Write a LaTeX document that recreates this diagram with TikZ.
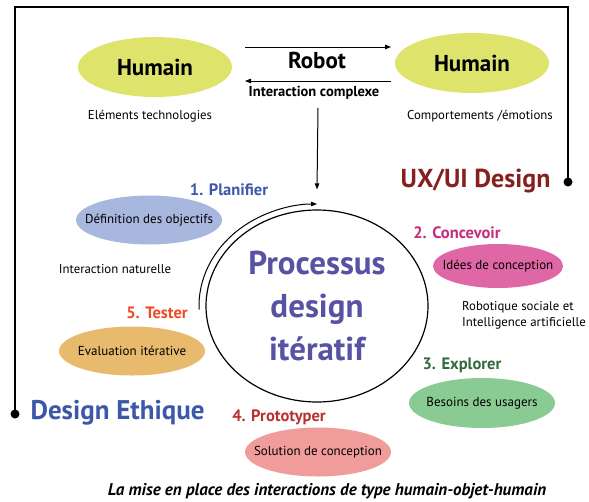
\documentclass[tikz,border=0pt]{standalone}
\usepackage{fontspec}
\setmainfont{PT Sans}
\usetikzlibrary{shapes.geometric,arrows.meta,positioning}

\definecolor{humfill}{HTML}{DEE46B}
\definecolor{planfill}{HTML}{A8B7DE}
\definecolor{concfill}{HTML}{E067A6}
\definecolor{explfill}{HTML}{8ACB94}
\definecolor{protfill}{HTML}{F09C9A}
\definecolor{testfill}{HTML}{E8BA6E}
\definecolor{procblue}{HTML}{5752A3}
\definecolor{planblue}{HTML}{3C58A8}
\definecolor{concpink}{HTML}{C72A7D}
\definecolor{explgreen}{HTML}{2F6B3C}
\definecolor{protred}{HTML}{B8312F}
\definecolor{testred}{HTML}{EF4A24}
\definecolor{uxred}{HTML}{85201E}

\newcommand{\fsz}[1]{\fontsize{#1}{#1}\selectfont}

\tikzset{
  hum/.style={ellipse, fill=humfill, minimum width=154pt, minimum height=60pt, inner sep=0pt, font=\fsz{23}\bfseries},
  blob/.style={ellipse, minimum width=146pt, minimum height=49pt, inner xsep=-25pt, inner ysep=0pt, font=\fsz{13}},
  stagelbl/.style={font=\fsz{16.5}\bfseries, inner sep=0pt},
  note/.style={font=\fsz{12.8}, inner sep=0pt},
  arr/.style={-{Triangle[length=6pt,width=4.5pt]}, line width=1pt},
}

\begin{document}
\begin{tikzpicture}[x=1pt,y=-1pt]
  \useasboundingbox (0,0) rectangle (589,501);

  % Frame linking the two design labels
  \coordinate (uxdot) at (568,182);
  \coordinate (ethdot) at (15,414);
  \draw[line width=1.2pt] (uxdot) -- (568,7) -- (15,7) -- (ethdot);
  \fill (uxdot) circle[radius=4.5];
  \fill (ethdot) circle[radius=4.5];
  \node[font=\fsz{26}\bfseries, text=uxred, anchor=east] (ux) at (554,181) {UX/UI Design};
  \node[font=\fsz{27}\bfseries, text=planblue, anchor=west] (eth) at (27,413) {Design Ethique};

  % Humain - Robot - Humain
  \node[hum] (humL) at (155,67) {Humain};
  \node[hum] (humR) at (472,63) {Humain};
  \node[font=\fsz{23}\bfseries, inner sep=0pt] (robot) at (317,60) {Robot};
  \node[font=\fsz{14.5}\bfseries, inner sep=0pt] (inter) at (314,93) {Interaction complexe};
  \coordinate (toA) at (245,47);
  \coordinate (toB) at (391,47);
  \coordinate (boA) at (391,81);
  \coordinate (boB) at (245,81);
  \draw[arr] (toA) -- (toB);
  \draw[arr] (boA) -- (boB);
  \node[note] (techno) at (150,116) {Eléments technologies};
  \node[note] (comport) at (480,116) {Comportements /émotions};

  % Central iterative cycle
  \node[ellipse, draw, line width=1.2pt, minimum width=222pt, minimum height=192pt,
        align=center, text=procblue, font=\fsz{33}\bfseries] (proc) at (317,306)
        {Processus\\[10pt]design\\[10pt]itératif};
  \draw[arr] (inter.south) ++(4,8) -- ([yshift=20pt]proc.north);
  \draw[line width=1pt, -{Triangle[length=6pt,width=4.5pt]}]
    ([shift={(317,306)}]178:118 and 102) arc[start angle=178, end angle=270, x radius=118, y radius=102];

  % 1. Planifier
  \node[stagelbl, text=planblue] (plan) at (229,190) {1. Planifier};
  \node[blob, fill=planfill] (planE) at (149,220) {Définition des objectifs};
  \node[note] (natur) at (115,269) {Interaction naturelle};

  % 2. Concevoir
  \node[stagelbl, text=concpink] (conc) at (457,233) {2. Concevoir};
  \node[blob, fill=concfill, minimum width=130pt, minimum height=44pt] (concE) at (498,266) {Idées de conception};
  \node[note, align=left, anchor=west] (robsoc) at (462,315) {Robotique sociale et\\[3pt]Intelligence artificielle};

  % 3. Explorer
  \node[stagelbl, text=explgreen] (expl) at (462,365) {3. Explorer};
  \node[blob, fill=explfill, minimum height=50pt] (explE) at (482,403) {Besoins des usagers};

  % 4. Prototyper
  \node[stagelbl, text=protred] (prot) at (279,417) {4. Prototyper};
  \node[blob, fill=protfill] (protE) at (318,452) {Solution de conception};

  % 5. Tester
  \node[stagelbl, text=testred] (test) at (157,313) {5. Tester};
  \node[blob, fill=testfill] (testE) at (132,351) {Evaluation itérative};

  % Caption
  \node[font=\fsz{17}\bfseries\itshape, inner sep=0pt] (caption) at (327,491)
    {La mise en place des interactions de type humain-objet-humain};
\end{tikzpicture}
\end{document}
